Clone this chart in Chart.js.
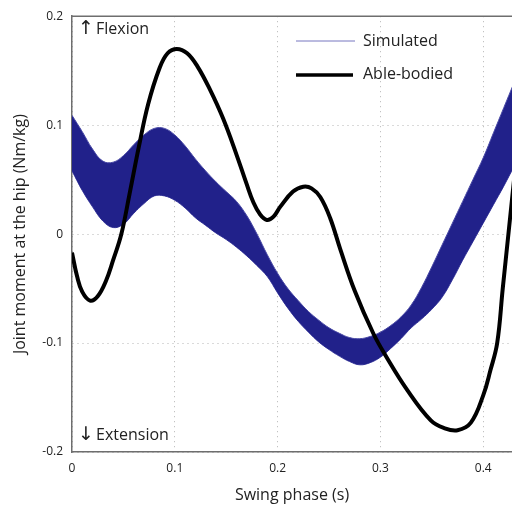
<!DOCTYPE html>
<html>
<head>
<meta charset="utf-8">
<script src="https://cdn.jsdelivr.net/npm/chart.js@4.4.0/dist/chart.umd.min.js"></script>
<style>
  html, body { margin: 0; padding: 0; background: #fff; }
  canvas { display: block; }
</style>
</head>
<body>
<canvas id="chart" width="512" height="508"></canvas>
<script>
// swing phase samples (s) for the simulated band
var phase = [0, 0.01, 0.02, 0.03, 0.04, 0.05, 0.06, 0.07, 0.08, 0.09,
  0.10, 0.11, 0.12, 0.13, 0.14, 0.15, 0.16, 0.17, 0.18, 0.19,
  0.20, 0.21, 0.22, 0.23, 0.24, 0.25, 0.26, 0.27, 0.28, 0.29,
  0.30, 0.31, 0.32, 0.33, 0.34, 0.35, 0.36, 0.37, 0.38, 0.39,
  0.40, 0.41, 0.42, 0.43];

// upper and lower edge of the simulated family (Nm/kg)
var simUpper = [0.109, 0.094, 0.078, 0.067, 0.066, 0.072, 0.082, 0.091, 0.097, 0.097,
  0.091, 0.081, 0.069, 0.058, 0.048, 0.039, 0.030, 0.017, 0.000, -0.019,
  -0.036, -0.050, -0.061, -0.071, -0.079, -0.086, -0.091, -0.095, -0.096, -0.094,
  -0.090, -0.084, -0.076, -0.065, -0.049, -0.030, -0.010, 0.010, 0.030, 0.050,
  0.070, 0.093, 0.116, 0.139];
var simLower = [0.058, 0.040, 0.025, 0.012, 0.006, 0.009, 0.019, 0.028, 0.035, 0.035,
  0.031, 0.024, 0.015, 0.008, 0.001, -0.005, -0.012, -0.020, -0.029, -0.039,
  -0.054, -0.068, -0.080, -0.090, -0.099, -0.106, -0.112, -0.117, -0.120, -0.118,
  -0.113, -0.105, -0.096, -0.086, -0.078, -0.069, -0.058, -0.042, -0.024, -0.007,
  0.010, 0.027, 0.044, 0.062];

// able-bodied reference
var ableX = [0, 0.005, 0.01, 0.0175, 0.025, 0.033, 0.04, 0.048, 0.056, 0.065,
  0.074, 0.085, 0.093, 0.102, 0.112, 0.122, 0.134, 0.147, 0.160, 0.1695,
  0.1765, 0.183, 0.1895, 0.196, 0.2025, 0.215, 0.225, 0.233, 0.2415, 0.251,
  0.261, 0.275, 0.293, 0.306, 0.326, 0.349, 0.362, 0.375, 0.388, 0.40,
  0.407, 0.4136, 0.419, 0.4245, 0.43];
var ableY = [-0.017, -0.039, -0.053, -0.061, -0.057, -0.043, -0.024, 0.000, 0.037, 0.080,
  0.119, 0.152, 0.166, 0.170, 0.166, 0.154, 0.133, 0.106, 0.073, 0.047,
  0.029, 0.018, 0.013, 0.016, 0.025, 0.039, 0.0435, 0.042, 0.034, 0.015,
  -0.014, -0.052, -0.091, -0.113, -0.143, -0.171, -0.178, -0.180, -0.173, -0.148,
  -0.125, -0.100, -0.050, 0.000, 0.050];

var xTicks = [0, 0.1, 0.2, 0.3, 0.4];
var yTicks = [-0.2, -0.1, 0, 0.1, 0.2];

function pts(xs, ys) {
  return xs.map(function (x, i) { return { x: x, y: ys[i] }; });
}

var FONT = '"Open Sans", "Noto Sans", sans-serif';
var BAND = '#21218a';

var extras = {
  id: 'extras',
  afterDraw: function (chart) {
    var ctx = chart.ctx;
    var a = chart.chartArea;
    ctx.save();
    // top frame line
    ctx.strokeStyle = '#6e6e6e';
    ctx.lineWidth = 1.5;
    ctx.beginPath();
    ctx.moveTo(a.left, a.top);
    ctx.lineTo(a.right, a.top);
    ctx.stroke();

    ctx.fillStyle = '#222';
    ctx.textBaseline = 'middle';
    ctx.textAlign = 'left';
    ctx.font = '19px "DejaVu Sans", sans-serif';
    ctx.fillText('\u2191', a.left + 6, 29);
    ctx.fillText('\u2193', a.left + 6, 435);
    ctx.font = '16px ' + FONT;
    ctx.fillText('Flexion', a.left + 24, 29);
    ctx.fillText('Extension', a.left + 24, 435);

    // legend
    ctx.lineWidth = 1;
    ctx.strokeStyle = '#7777c0';
    ctx.beginPath();
    ctx.moveTo(296, 41);
    ctx.lineTo(355, 41);
    ctx.stroke();
    ctx.lineWidth = 3.5;
    ctx.strokeStyle = '#000';
    ctx.beginPath();
    ctx.moveTo(296, 75);
    ctx.lineTo(353, 75);
    ctx.stroke();
    ctx.fillText('Simulated', 363, 41);
    ctx.fillText('Able-bodied', 363, 74);
    ctx.restore();
  }
};

new Chart(document.getElementById('chart'), {
  type: 'line',
  data: {
    datasets: [
      {
        label: 'Able-bodied',
        data: pts(ableX, ableY),
        borderColor: '#000',
        borderWidth: 4,
        pointRadius: 0,
        fill: false,
        tension: 0.4,
        order: 0
      },
      {
        label: 'Simulated',
        data: pts(phase, simUpper),
        borderColor: '#4a4aa6',
        borderWidth: 1,
        backgroundColor: BAND,
        pointRadius: 0,
        fill: '+1',
        tension: 0.4,
        order: 1
      },
      {
        label: 'Simulated',
        data: pts(phase, simLower),
        borderColor: '#4a4aa6',
        borderWidth: 1,
        pointRadius: 0,
        fill: false,
        tension: 0.4,
        order: 2
      }
    ]
  },
  options: {
    responsive: false,
    devicePixelRatio: 1,
    animation: false,
    layout: { padding: { top: 13, right: 0, left: 0, bottom: 0 } },
    plugins: {
      legend: { display: false },
      tooltip: { enabled: false }
    },
    scales: {
      x: {
        type: 'linear',
        min: 0,
        max: 0.428,
        afterBuildTicks: function (s) { s.ticks = xTicks.map(function (v) { return { value: v }; }); },
        afterFit: function (s) { s.height = 56; },
        grid: { color: '#b4b4b4', lineWidth: 1, drawTicks: false },
        border: { color: '#6e6e6e', width: 1.5, dash: [1, 4] },
        ticks: { padding: 9, color: '#222', font: { family: FONT, size: 12 } },
        title: {
          display: true,
          text: 'Swing phase (s)',
          color: '#222',
          font: { family: FONT, size: 16 },
          padding: { top: 0, bottom: 3 }
        }
      },
      y: {
        min: -0.2,
        max: 0.2,
        afterBuildTicks: function (s) { s.ticks = yTicks.map(function (v) { return { value: v }; }); },
        afterFit: function (s) { s.width = 72; },
        grid: { color: '#b4b4b4', lineWidth: 1, drawTicks: false },
        border: { color: '#6e6e6e', width: 1.5, dash: [1, 4] },
        ticks: { padding: 9, color: '#222', font: { family: FONT, size: 12 } },
        title: {
          display: true,
          text: 'Joint moment at the hip (Nm/kg)',
          color: '#222',
          font: { family: FONT, size: 16 },
          padding: { top: 11, bottom: 0 }
        }
      }
    }
  },
  plugins: [extras]
});
</script>
</body>
</html>
